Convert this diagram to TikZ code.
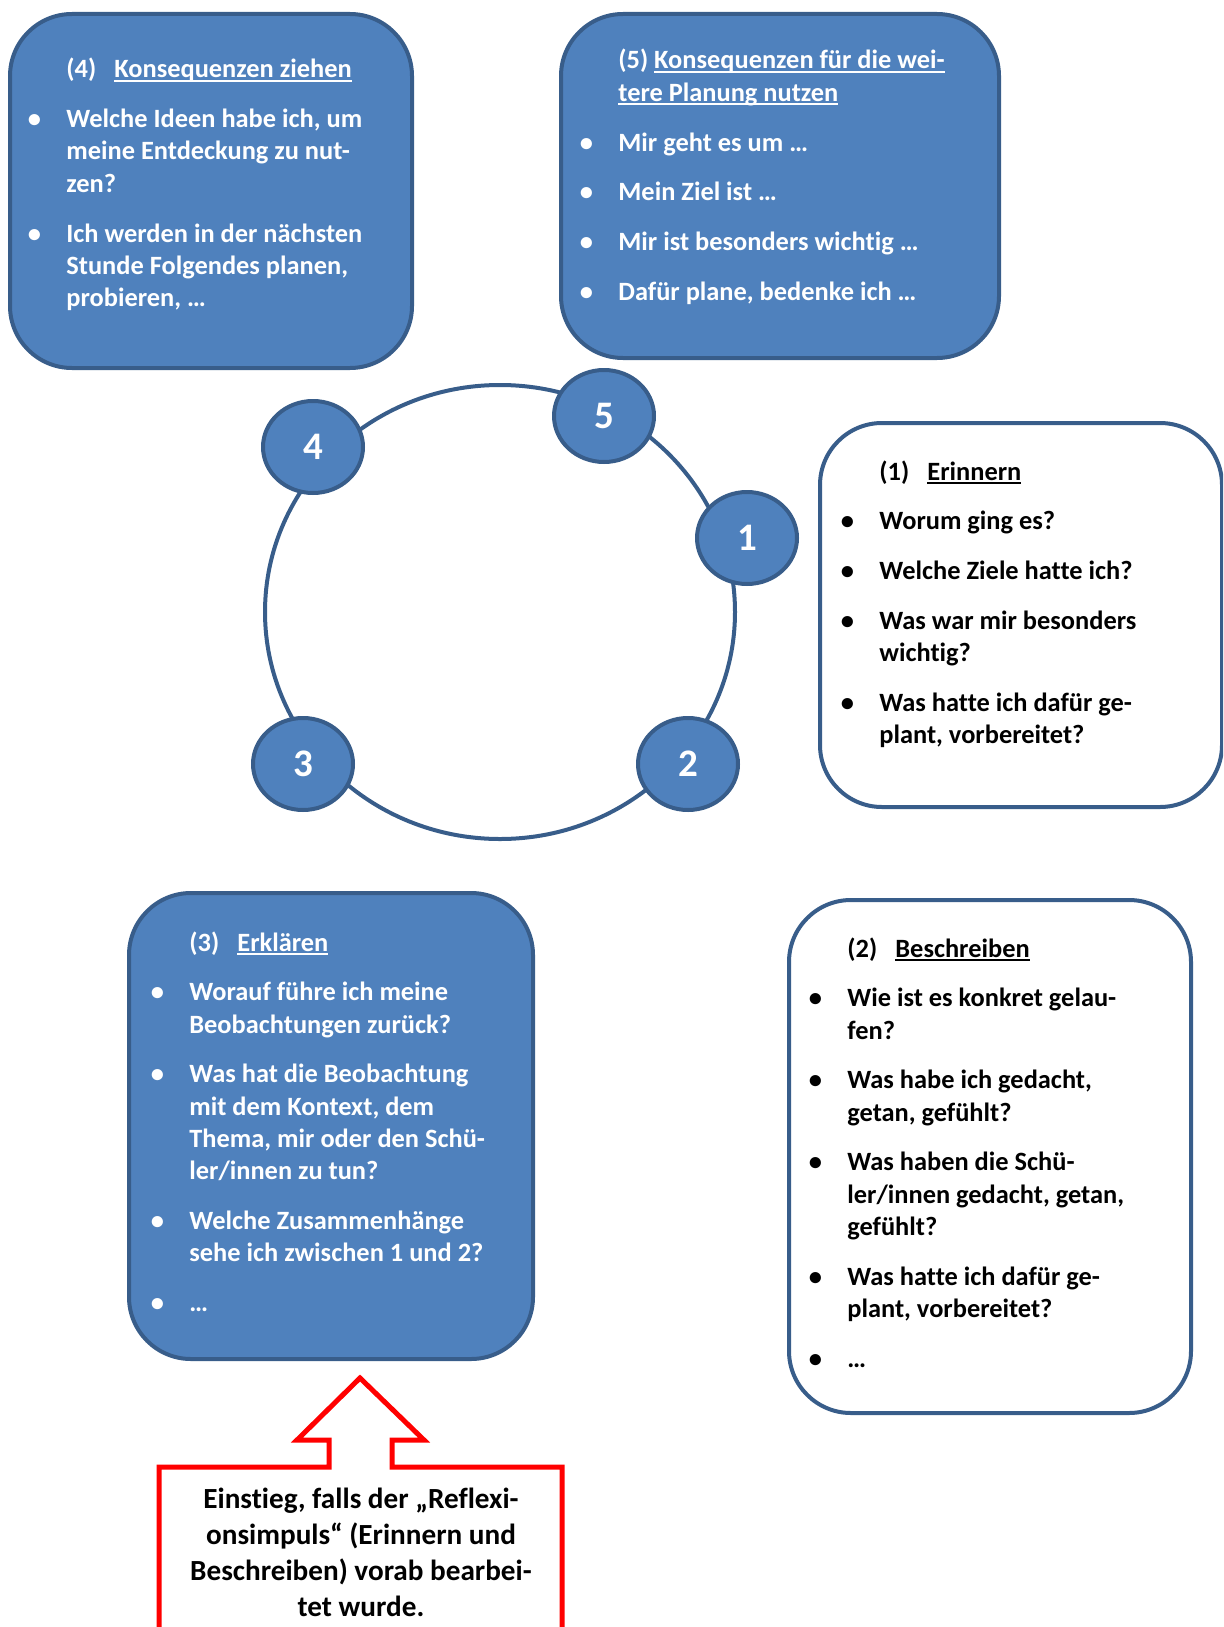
\documentclass[tikz,border=0pt]{standalone}
\usepackage{fontspec}
\setmainfont{Carlito}[Ligatures={NoCommon}]
\usetikzlibrary{shapes.geometric}

\definecolor{accblue}{HTML}{4F81BD}
\definecolor{edgeblue}{HTML}{385D8A}

\newcommand{\bul}{\makebox[0pt]{\textbullet}\hspace*{16pt}}
\newcommand{\ind}{\hspace*{16pt}}
\newcommand{\gap}{\\[8.8pt]}
\newcommand{\uln}[1]{\setbox0\hbox{#1}\rlap{\rule[-1.9pt]{\wd0}{0.9pt}}\box0}
\newcommand{\numtxt}[1]{\raisebox{-1.6pt}{#1}}

\tikzset{
  panel/.style={rectangle, rounded corners=31pt, line width=2pt, draw=edgeblue, inner sep=0pt},
  bluepanel/.style={panel, fill=accblue},
  whitepanel/.style={panel, fill=white},
  boxtext/.style={anchor=base west, inner sep=0pt, font=\fontsize{13.2}{16.1}\selectfont\bfseries},
  stepnum/.style={ellipse, draw=edgeblue, fill=accblue, line width=2pt, inner sep=0pt,
    minimum width=50pt, minimum height=46pt, text=white, font=\fontsize{19.5}{22}\selectfont\bfseries},
}

\begin{document}
\begin{tikzpicture}[x=0.5pt, y=-0.5pt]
  \useasboundingbox (0,0) rectangle (1223,1627);
  \clip (0,0) rectangle (1223,1627);

  % the five panels
  \node[bluepanel, minimum width=201pt, minimum height=177pt] (box4) at (211,191) {};
  \node[bluepanel, minimum width=219pt, minimum height=172pt] (box5) at (780,186) {};
  \node[whitepanel, minimum width=201pt, minimum height=192pt] (box1) at (1021,615) {};
  \node[bluepanel, minimum width=202pt, minimum height=233pt] (box3) at (331,1126) {};
  \node[whitepanel, minimum width=201pt, minimum height=256.5pt] (box2) at (990,1156.5) {};

  \node[boxtext, text=white] (text4) at (34,78) {\begin{tabular}[t]{@{}l@{}}
    \ind\makebox[24pt][l]{(4)}\uln{Konsequenzen ziehen}\gap
    \bul Welche Ideen habe ich, um\\
    \ind meine Entdeckung zu nut-\\
    \ind zen?\gap
    \bul Ich werden in der nächsten\\
    \ind Stunde Folgendes planen,\\
    \ind probieren, …
  \end{tabular}};

  \node[boxtext, text=white] (text5) at (586,69) {\begin{tabular}[t]{@{}l@{}}
    \ind(5) \uln{Konsequenzen für die wei-}\\
    \ind\uln{tere Planung nutzen}\gap
    \bul Mir geht es um …\gap
    \bul Mein Ziel ist …\gap
    \bul Mir ist besonders wichtig …\gap
    \bul Dafür plane, bedenke ich …
  \end{tabular}};

  \node[boxtext] (text1) at (847,480) {\begin{tabular}[t]{@{}l@{}}
    \ind\makebox[24pt][l]{(1)}\uln{Erinnern}\gap
    \bul Worum ging es?\gap
    \bul Welche Ziele hatte ich?\gap
    \bul Was war mir besonders\\
    \ind wichtig?\gap
    \bul Was hatte ich dafür ge-\\
    \ind plant, vorbereitet?
  \end{tabular}};

  \node[boxtext, text=white] (text3) at (157,951) {\begin{tabular}[t]{@{}l@{}}
    \ind\makebox[24pt][l]{(3)}\uln{Erklären}\gap
    \bul Worauf führe ich meine\\
    \ind Beobachtungen zurück?\gap
    \bul Was hat die Beobachtung\\
    \ind mit dem Kontext, dem\\
    \ind Thema, mir oder den Schü-\\
    \ind ler/innen zu tun?\gap
    \bul Welche Zusammenhänge\\
    \ind sehe ich zwischen 1 und 2?\gap
    \bul …
  \end{tabular}};

  \node[boxtext] (text2) at (815,957) {\begin{tabular}[t]{@{}l@{}}
    \ind\makebox[24pt][l]{(2)}\uln{Beschreiben}\gap
    \bul Wie ist es konkret gelau-\\
    \ind fen?\gap
    \bul Was habe ich gedacht,\\
    \ind getan, gefühlt?\gap
    \bul Was haben die Schü-\\
    \ind ler/innen gedacht, getan,\\
    \ind gefühlt?\gap
    \bul Was hatte ich dafür ge-\\
    \ind plant, vorbereitet?\gap
    \bul …
  \end{tabular}};

  % cycle
  \node[ellipse, draw=edgeblue, line width=2pt, minimum width=235pt, minimum height=227pt] (ring) at (500,612) {};
  \node[stepnum] (s1) at (747,538) {\numtxt{1}};
  \node[stepnum] (s2) at (688,764) {\numtxt{2}};
  \node[stepnum] (s3) at (303,764) {\numtxt{3}};
  \node[stepnum] (s4) at (313,447) {\numtxt{4}};
  \node[stepnum] (s5) at (604,416) {\numtxt{5}};

  % entry arrow
  \draw[red, line width=2.5pt] (159,1660) -- (159,1467) -- (329,1467) -- (329,1440) -- (297,1440)
    -- (360,1378) -- (424,1440) -- (392,1440) -- (392,1467) -- (562,1467) -- (562,1660);
  \node[anchor=base, inner sep=0pt, font=\fontsize{14.6}{18}\selectfont\bfseries] (entry) at (361,1508)
    {\begin{tabular}[t]{@{}c@{}}
      Einstieg, falls der „Reflexi-\\
      onsimpuls“ (Erinnern und\\
      Beschreiben) vorab bearbei-\\
      tet wurde.
    \end{tabular}};
\end{tikzpicture}
\end{document}
